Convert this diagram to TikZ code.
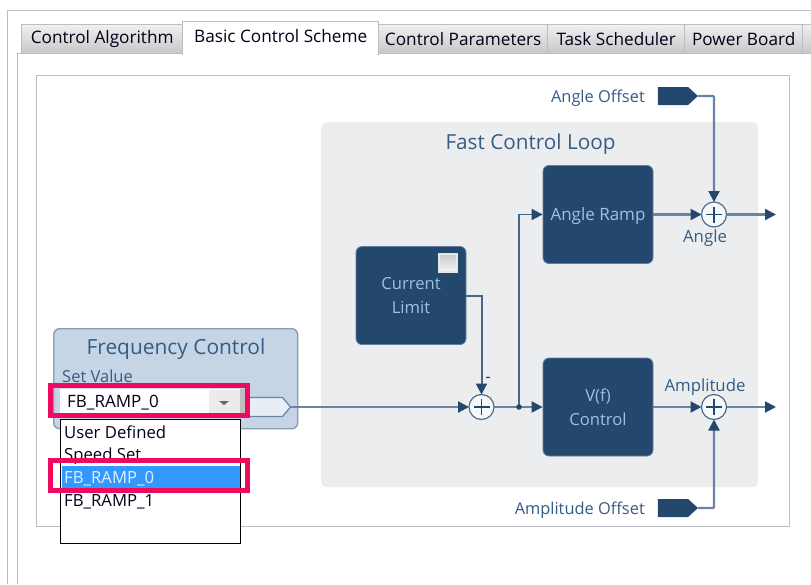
\documentclass[tikz,border=0pt]{standalone}
\usepackage{fontspec}
\setmainfont{Open Sans}
\usetikzlibrary{arrows.meta,shapes.symbols}
\definecolor{navy}{HTML}{24476D}
\definecolor{wire}{HTML}{6A85A3}
\definecolor{lab}{HTML}{355C86}
\definecolor{blocktxt}{HTML}{9CC2E2}
\definecolor{frameg}{HTML}{BDBDC4}
\definecolor{panel}{HTML}{ECEDEE}
\definecolor{fcfill}{HTML}{C5D5E5}
\definecolor{pink}{HTML}{F0095F}
\definecolor{sel}{HTML}{3399FF}
\newcommand{\fs}[1]{\fontsize{#1}{#1}\selectfont}
\tikzset{
  tabbox/.style={draw=frameg,line width=1.4pt,top color=white!94!black,bottom color=white!78!black,anchor=north west,
     inner sep=0pt,minimum height=29,font=\fs{17.2},text=black!90!blue},
  acttab/.style={draw=frameg,line width=1.4pt,fill=white,anchor=north west,inner sep=0pt,minimum height=33,
     font=\fs{17.2},text=black!90!blue},
  block/.style={fill=navy,draw=navy!70!white,line width=.8pt,rounded corners=6pt,minimum width=110,minimum height=98,
     inner sep=0pt,align=center,text=blocktxt,font=\fs{16.6}},
  sumnode/.style={circle,draw=navy!80!white,fill=white!85!fcfill,line width=1.2pt,minimum size=25,inner sep=0pt,outer sep=0pt,
     path picture={\draw[navy,line width=1.6pt]
       (path picture bounding box.center) ++(-8,0) -- ++(16,0)
       (path picture bounding box.center) ++(0,-8) -- ++(0,16);}},
  wireline/.style={draw=wire,line width=2.2pt},
  flow/.style={wireline,-{Triangle[length=11pt,width=11pt,fill=navy,color=navy]}},
  portin/.style={signal,signal to=east,signal pointer angle=85,fill=navy,minimum width=40,minimum height=18,inner sep=0pt,outer sep=0pt},
  lbl/.style={text=lab,inner sep=0pt,font=\fs{16.4}},
  pinkbox/.style={draw=pink,line width=5pt,fill=none,minimum width=197,minimum height=30,inner sep=0pt,anchor=north west},
  item/.style={anchor=west,inner sep=0pt,text=black!90!blue,font=\fs{16.7}}
}
\begin{document}
\begin{tikzpicture}[x=1pt,y=-1pt]
\useasboundingbox (0,0) rectangle (811,584);
\fill[white] (0,0) rectangle (811,584);
% window frame
\draw[frameg,line width=1.4pt] (811,10.5) -- (7.5,10.5) -- (7.5,584);
\draw[frameg,line width=1.4pt] (17.5,584) -- (17.5,53.5) -- (811,53.5);
% tabs
\node[tabbox,minimum width=162] (t1) at (20.5,24) {\raisebox{-1pt}{Control Algorithm}};
\node[tabbox,minimum width=169] (t3) at (378,24) {\raisebox{-1pt}{Control Parameters}};
\node[tabbox,minimum width=137] (t4) at (547,24) {\raisebox{-1pt}{Task Scheduler}};
\node[tabbox,minimum width=118] (t5) at (684,24) {\raisebox{-1pt}{Power Board}};
\node[tabbox,minimum width=30] (t6) at (802,24) {};
\fill[white] (811,0) rectangle (830,60);
\node[acttab,minimum width=196] (t2) at (182,20.5) {\raisebox{4pt}{Basic Control Scheme}};
\fill[white] (183,50) rectangle (377,55);
% inner frame
\node[draw=frameg,line width=1.4pt,fill=white,anchor=north west,minimum width=753,minimum height=451,inner sep=0pt] (frame) at (35.5,75) {};
% panel
\node[fill=panel,rounded corners=6pt,anchor=north west,minimum width=437,minimum height=365,inner sep=0pt] (panel) at (321,122) {};
\node[text=lab,font=\fs{20.7},inner sep=0pt] (fcl) at (530.5,144) {Fast Control Loop};
% blocks
\node[block] (ramp) at (598,214.5) {\raisebox{-6pt}[0pt][0pt]{\fs{17}Angle Ramp}};
\node[block] (vf) at (598,407) {V(f)\\[7pt]Control};
\node[block] (cur) at (411,295.5) {Current\\[7pt]Limit};
\node[draw=white!90!black,top color=white!80!black,bottom color=white!95!black,line width=1.4pt,minimum size=18,inner sep=0pt] (chk) at (448,263) {};
% sums
\node[sumnode] (s1) at (714,214.5) {};
\node[sumnode] (s2) at (481.5,407) {};
\node[sumnode] (s3) at (714,407) {};
\node[lbl,font=\fs{16.8}] (angle) at (705,238) {Angle};
\node[lbl,font=\fs{16.8}] (ampl) at (705,387) {Amplitude};
\node[text=navy,font=\fs{17},inner sep=0pt] (minus) at (488,380) {-};
% offsets
\node[portin] (ao) at (673,96) {};
\node[portin] (po) at (673,508) {};
\node[lbl,anchor=east] (aol) at (645,98) {Angle Offset};
\node[lbl,anchor=east] (pol) at (645,510) {Amplitude Offset};
% frequency control
\node[draw=wire!80!white,fill=fcfill,line width=1.4pt,rounded corners=6pt,anchor=north west,minimum width=244,minimum height=100,inner sep=0pt] (fc) at (53,328) {};
\node[text=lab,font=\fs{20.9},inner sep=0pt] (fct) at (176,349) {Frequency Control};
\node[text=lab,font=\fs{16.5},inner sep=0pt,anchor=west] (sv) at (62,376) {Set Value};
\node[signal,signal to=east,signal pointer angle=100,fill=white!60!fcfill,draw=wire,line width=1.2pt,minimum width=42,minimum height=19,inner sep=0pt,outer sep=0pt] (port) at (265.5,407) {};
% combo
\node[fill=white,anchor=north west,minimum width=180,minimum height=26,inner sep=0pt] (combo) at (60,389) {};
\node[item,font=\fs{17}] (cv) at (67,403) {FB\_RAMP\_0};
\node[fill=white!92!black,minimum width=31,minimum height=24,inner sep=0pt] (btn) at (224,402) {};
\fill[black!60] (219,401) -- (229,401) -- (224,405) -- cycle;
\node[fill=white!75!black,minimum width=5,minimum height=26,inner sep=0pt] (cedge) at (242,402) {};
% connectors
\draw[flow] (port.east) -- (s2.west);
\coordinate (dot) at (519,407);
\draw[wireline] (s2.east) -- (dot);
\draw[flow] (dot) -- (vf.west);
\draw[flow,draw=wire!50!navy,line width=1.8pt] (dot) |- (ramp.west);
\fill[navy] (dot) circle (2.8);
\draw[flow] (ramp.east) -- (s1.west);
\coordinate (o1) at (776,214.5);
\coordinate (o3) at (776,407);
\draw[flow] (s1.east) -- (o1);
\draw[flow] (vf.east) -- (s3.west);
\draw[flow] (s3.east) -- (o3);
\draw[flow,rounded corners=1pt] (ao.east) -| (s1.north);
\draw[flow,rounded corners=1pt] (po.east) -| (s3.south);
\draw[flow,draw=wire!50!navy,line width=2pt] (cur.east) -| (s2.north);
% dropdown
\node[draw=black,line width=1.4pt,fill=white,anchor=north west,minimum width=180,minimum height=124,inner sep=0pt] (drop) at (59.5,419) {};
\node[item] (i1) at (64,432) {User Defined};
\node[item] (i2) at (64,456) {Speed Set};
\node[fill=sel,anchor=north west,minimum width=178,minimum height=24,inner sep=0pt] (i3bg) at (62,466) {};
\node[item,text=white!85!sel] (i3) at (64,479) {FB\_RAMP\_0};
\node[item] (i4) at (64,502) {FB\_RAMP\_1};
% highlights
\node[pinkbox] (h1) at (48,383) {};
\node[pinkbox] (h2) at (48,458) {};
\end{tikzpicture}
\end{document}
